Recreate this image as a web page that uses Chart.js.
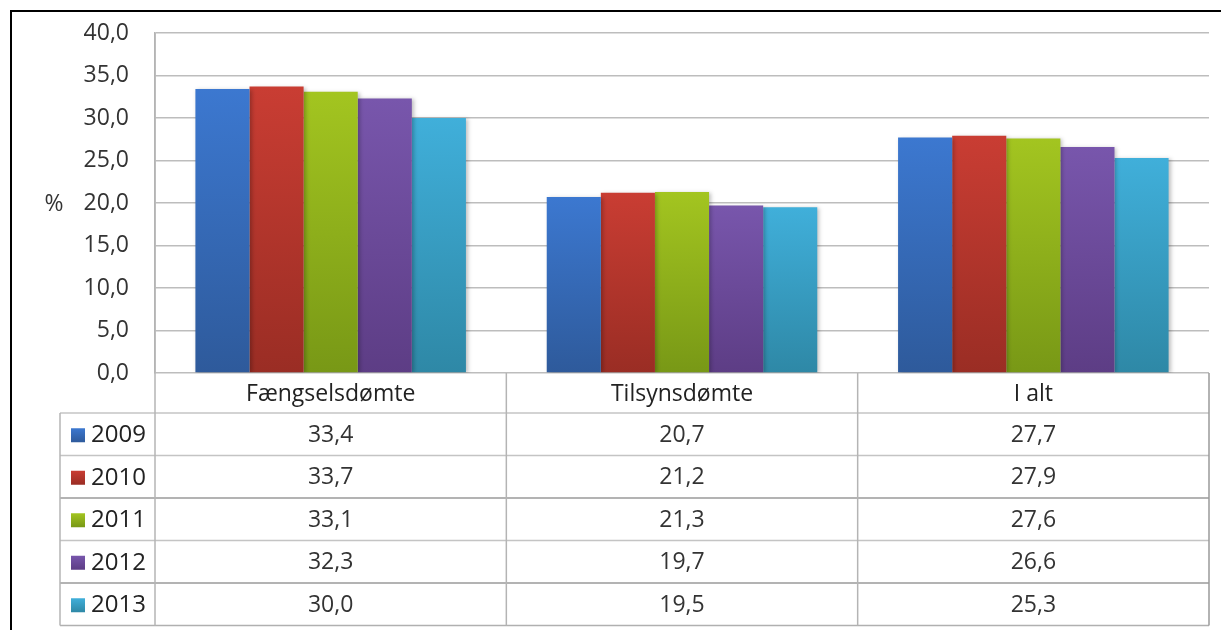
<!DOCTYPE html>
<html>
<head>
<meta charset="utf-8">
<script src="https://cdn.jsdelivr.net/npm/chart.js@4"></script>
<style>
  html, body { margin: 0; padding: 0; background: #fff; }
  #wrap { width: 1221px; height: 630px; position: relative; }
</style>
</head>
<body>
<div id="wrap"><canvas id="chart" width="1221" height="630"></canvas></div>
<script>
// data
var categories = ['Fængselsdømte', 'Tilsynsdømte', 'I alt'];
var years = ['2009', '2010', '2011', '2012', '2013'];
var v2009 = [33.4, 20.7, 27.7];
var v2010 = [33.7, 21.2, 27.9];
var v2011 = [33.1, 21.3, 27.6];
var v2012 = [32.3, 19.7, 26.6];
var v2013 = [30.0, 19.5, 25.3];
var yMin = 0, yMax = 40, yStep = 5;

// top / bottom colour of each series gradient
var colTop = ['#3c78d0', '#c93d33', '#a3c520', '#7856ac', '#40afda'];
var colBottom = ['#2e5a9b', '#9a2d24', '#789816', '#5d3d85', '#2e88a6'];
var seriesValues = [v2009, v2010, v2011, v2012, v2013];

var FONT = '"Open Sans", "Noto Sans", sans-serif';
var FSIZE = 23;

function fmt(v) {
    return v.toFixed(1).replace('.', ',');
}

function barFill(i) {
    return function (ctx) {
        var chart = ctx.chart;
        var area = chart.chartArea;
        if (!area || !chart.scales.y || ctx.raw === undefined) return colTop[i];
        var top = chart.scales.y.getPixelForValue(ctx.raw);
        var g = chart.ctx.createLinearGradient(0, top, 0, area.bottom);
        g.addColorStop(0, colTop[i]);
        g.addColorStop(1, colBottom[i]);
        return g;
    };
}

// soft shadow under the bars
var shadowPlugin = {
    id: 'barShadow',
    beforeDatasetsDraw: function (chart) {
        var c = chart.ctx;
        c.save();
        c.shadowColor = 'rgba(0,0,0,0.25)';
        c.shadowBlur = 4;
        c.shadowOffsetX = 2;
        c.shadowOffsetY = 1;
    },
    afterDatasetsDraw: function (chart) {
        chart.ctx.restore();
    }
};

// data table under the plot, frame and "%" label
var tablePlugin = {
    id: 'dataTable',
    afterDraw: function (chart) {
        var c = chart.ctx;
        var area = chart.chartArea;
        var x = chart.scales.x;
        var n = categories.length;
        var colW = (area.right - area.left) / n;
        var tableLeft = 60;
        var headTop = area.bottom;
        var headH = 40;
        var rowH = 42.5;
        var rowsTop = headTop + headH;
        var tableBottom = rowsTop + rowH * years.length;

        c.save();

        // horizontal lines
        c.lineWidth = 1.5;
        for (var r = 0; r <= years.length; r++) {
            var yy = rowsTop + r * rowH;
            c.strokeStyle = (r === 2 || r === 4) ? '#9a9a9a' : '#c4c4c4';
            if (r === years.length) c.strokeStyle = '#b0b0b0';
            c.beginPath();
            c.moveTo(tableLeft, yy);
            c.lineTo(area.right, yy);
            c.stroke();
        }

        // vertical lines
        c.strokeStyle = '#b4b4b4';
        c.beginPath();
        c.moveTo(tableLeft, rowsTop);
        c.lineTo(tableLeft, tableBottom);
        c.stroke();
        for (var k = 0; k <= n; k++) {
            var xx = area.left + k * colW;
            c.strokeStyle = k === n ? '#9a9a9a' : '#b4b4b4';
            c.beginPath();
            c.moveTo(xx, k === 0 ? area.top : headTop);
            c.lineTo(xx, tableBottom);
            c.stroke();
        }

        // header texts
        c.fillStyle = '#222';
        c.font = FSIZE + 'px ' + FONT;
        c.textAlign = 'center';
        c.textBaseline = 'middle';
        for (var j = 0; j < n; j++) {
            c.fillText(categories[j], x.getPixelForValue(j), headTop + headH / 2 + 1);
        }

        // rows
        for (var i = 0; i < years.length; i++) {
            var cy = rowsTop + i * rowH + rowH / 2 + 1;
            var sq = c.createLinearGradient(0, cy - 7, 0, cy + 7);
            sq.addColorStop(0, colTop[i]);
            sq.addColorStop(1, colBottom[i]);
            c.fillStyle = sq;
            c.fillRect(71, cy - 7, 14, 14);

            c.fillStyle = '#222';
            c.textAlign = 'left';
            c.font = (FSIZE + 1) + 'px ' + FONT;
            c.fillText(years[i], 91, cy);

            c.textAlign = 'center';
            c.fillStyle = '#333';
            c.font = FSIZE + 'px ' + FONT;
            for (var j2 = 0; j2 < n; j2++) {
                c.fillText(fmt(seriesValues[i][j2]), x.getPixelForValue(j2), cy);
            }
        }

        // "%" axis label
        c.fillStyle = '#333';
        c.font = FSIZE + 'px ' + FONT;
        c.textAlign = 'center';
        c.fillText('%', 54, chart.scales.y.getPixelForValue(20) + 1);

        // outer black frame
        c.strokeStyle = '#000';
        c.lineWidth = 2;
        c.beginPath();
        c.moveTo(11, 630);
        c.lineTo(11, 11);
        c.lineTo(1221, 11);
        c.stroke();

        c.restore();
    }
};

var datasets = years.map(function (y, i) {
    return {
        label: y,
        data: seriesValues[i],
        backgroundColor: barFill(i),
        borderWidth: 0,
        barPercentage: 1.0,
        categoryPercentage: 0.77
    };
});

var ctx = document.getElementById('chart').getContext('2d');
var chart = new Chart(ctx, {
    type: 'bar',
    data: {
        labels: categories,
        datasets: datasets
    },
    options: {
        responsive: false,
        animation: false,
        devicePixelRatio: 1,
        layout: {
            padding: { top: 33, bottom: 257, right: 12, left: 0 }
        },
        plugins: {
            legend: { display: false },
            tooltip: { enabled: false }
        },
        scales: {
            x: {
                display: false
            },
            y: {
                min: yMin,
                max: yMax,
                afterFit: function (scale) {
                    // fixed axis width, no extra room for label overflow
                    scale.width = 155;
                    scale.paddingTop = 0;
                    scale.paddingBottom = 0;
                },
                ticks: {
                    stepSize: yStep,
                    padding: 26,
                    color: '#333',
                    font: { family: FONT, size: FSIZE },
                    callback: function (v) { return fmt(v); }
                },
                grid: {
                    color: '#bdbdbd',
                    lineWidth: 1.5,
                    drawTicks: false
                },
                border: {
                    color: '#b4b4b4',
                    width: 1.5
                }
            }
        }
    },
    plugins: [shadowPlugin, tablePlugin]
});
</script>
</body>
</html>
